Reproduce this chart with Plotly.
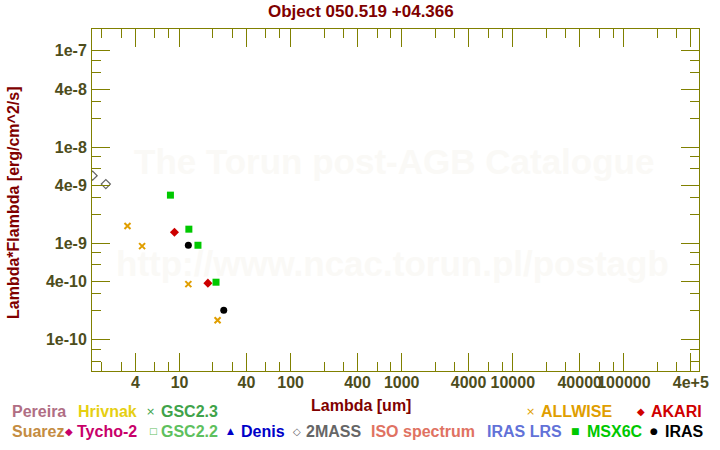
import plotly.graph_objects as go

# ---------------- data ----------------
title_text = "Object 050.519 +04.366"
x_title = "Lambda [um]"
y_title = "Lambda*Flambda [erg/cm^2/s]"
watermark_lines = ["The Torun post-AGB Catalogue", "http://www.ncac.torun.pl/postagb"]

twomass_wl = [1.65, 2.17]
twomass_flux = [5.06e-9, 4.14e-9]
allwise_wl = [3.4, 4.6, 12.0, 22.0]
allwise_flux = [1.52e-9, 9.4e-10, 3.79e-10, 1.60e-10]
akari_wl = [9.0, 18.0]
akari_flux = [1.31e-9, 3.88e-10]
msx_wl = [8.28, 12.13, 14.65, 21.3]
msx_flux = [3.18e-9, 1.41e-9, 9.6e-10, 3.97e-10]
iras_wl = [12.0, 25.0]
iras_flux = [9.6e-10, 2.03e-10]

x_tickvals = [4, 10, 40, 100, 400, 1000, 4000, 10000, 40000, 100000, 400000]
x_ticktext = ["4", "10", "40", "100", "400", "1000", "4000", "10000", "40000", "100000", "4e+5"]
y_tickvals = [1e-10, 4e-10, 1e-9, 4e-9, 1e-8, 4e-8, 1e-7]
y_ticktext = ["1e-10", "4e-10", "1e-9", "4e-9", "1e-8", "4e-8", "1e-7"]

legend_row1 = [("", "Pereira", "#B06E84"), ("", "Hrivnak", "#E6CF12"), ("×", "GSC2.3", "#40A34A"),
               ("×", "ALLWISE", "#E09E00"), ("◆", "AKARI", "#D00000")]
legend_row2 = [("", "Suarez", "#C48C42"), ("◆", "Tycho-2", "#C8006A"), ("□", "GSC2.2", "#5EC05E"),
               ("▲", "Denis", "#0000C8"), ("◇", "2MASS", "#666666"), ("", "ISO spectrum", "#E07262"),
               ("", "IRAS LRS", "#6272D8"), ("■", "MSX6C", "#00C800"), ("●", "IRAS", "#000000")]

# ---------------- layout geometry ----------------
W_FIG, H_FIG = 720, 450
ML, MR, MT, MB = 92, 21, 29, 79
PW = W_FIG - ML - MR
PH = H_FIG - MT - MB


def pxx(x):
    return (x - ML) / PW


def pyy(y):
    return (H_FIG - MB - y) / PH


AXIS = "#808000"
TICKC = "#4D4D1C"
DARKRED = "#800000"
FONT = "Liberation Sans"

fig = go.Figure()

fig.add_trace(go.Scatter(x=twomass_wl, y=twomass_flux, mode="markers", name="2MASS",
                         marker=dict(symbol="diamond-open", size=7, color="#666666",
                                     line=dict(width=1.2, color="#666666"))))
fig.add_trace(go.Scatter(x=allwise_wl, y=allwise_flux, mode="markers", name="ALLWISE",
                         marker=dict(symbol="x-thin", size=6, color="#E09E00",
                                     line=dict(width=2, color="#E09E00"))))
fig.add_trace(go.Scatter(x=akari_wl, y=akari_flux, mode="markers", name="AKARI",
                         marker=dict(symbol="diamond", size=7, color="#CC0000", line=dict(width=0))))
fig.add_trace(go.Scatter(x=msx_wl, y=msx_flux, mode="markers", name="MSX6C",
                         marker=dict(symbol="square", size=7, color="#00C800", line=dict(width=0))))
fig.add_trace(go.Scatter(x=iras_wl, y=iras_flux, mode="markers", name="IRAS",
                         marker=dict(symbol="circle", size=7, color="#000000", line=dict(width=0))))

x_minor = [m * 10 ** k for k in range(0, 6) for m in (2, 3, 6, 8)]
y_minor = [m * 10.0 ** k for k in range(-11, -6) for m in (2, 3, 6, 8)]

axis_common = dict(type="log", showgrid=False, zeroline=False, showline=True, linecolor=AXIS,
                   linewidth=1, mirror="allticks", ticks="inside", ticklen=18, tickwidth=1,
                   tickcolor=AXIS, tickmode="array", tickangle=0,
                   tickfont=dict(family=FONT, size=16, color=TICKC, weight="bold"))

fig.update_xaxes(**axis_common, range=[0.212, 5.676], tickvals=x_tickvals, ticktext=x_ticktext,
                 ticklabelstandoff=-3,
                 minor=dict(tickmode="array", tickvals=x_minor, ticks="inside", ticklen=9,
                            tickwidth=1, tickcolor=AXIS, showgrid=False))
fig.update_yaxes(**axis_common, range=[-10.323, -6.773], tickvals=y_tickvals, ticktext=y_ticktext,
                 ticklabelstandoff=1,
                 minor=dict(tickmode="array", tickvals=y_minor, ticks="inside", ticklen=9,
                            tickwidth=1, tickcolor=AXIS, showgrid=False))

ann = []
# watermark
ann.append(dict(x=pxx(394), y=pyy(162), text=watermark_lines[0], showarrow=False,
                xref="paper", yref="paper", xanchor="center", yanchor="middle",
                font=dict(family=FONT, size=35, color="#FAF9F6", weight="bold")))
ann.append(dict(x=pxx(392), y=pyy(263), text=watermark_lines[1], showarrow=False,
                xref="paper", yref="paper", xanchor="center", yanchor="middle",
                font=dict(family=FONT, size=35, color="#FAF9F6", weight="bold")))
# title
ann.append(dict(x=pxx(361), y=pyy(11), text=title_text, showarrow=False, xref="paper", yref="paper",
                xanchor="center", yanchor="middle",
                font=dict(family=FONT, size=17, color=DARKRED, weight="bold")))
# axis titles
ann.append(dict(x=pxx(361), y=pyy(405), text=x_title, showarrow=False, xref="paper", yref="paper",
                xanchor="center", yanchor="middle",
                font=dict(family=FONT, size=16, color=DARKRED, weight="bold")))
ann.append(dict(x=pxx(13), y=pyy(203), text=y_title, showarrow=False, xref="paper", yref="paper",
                xanchor="center", yanchor="middle", textangle=-90,
                font=dict(family=FONT, size=16, color=DARKRED, weight="bold")))

row1_pos = [(None, 11), (None, 77.7), (150.7, 160.7), (530, 540.7), (640.7, 650)]
row2_pos = [(None, 11), (69.3, 76), (153.3, 160), (230, 240.7), (296.7, 305), (None, 370.7),
            (None, 486), (575.3, 586), (654.3, 664.3)]
sym_size = {"×": 11, "◆": 10, "□": 9, "▲": 9, "◇": 10, "■": 9, "●": 9}
for row, pos, yrow in ((legend_row1, row1_pos, 411), (legend_row2, row2_pos, 431)):
    for (sym, label, color), (sx, tx) in zip(row, pos):
        if sym:
            ann.append(dict(x=pxx(sx), y=pyy(yrow), text=sym, showarrow=False, xref="paper",
                            yref="paper", xanchor="center", yanchor="middle",
                            font=dict(family="DejaVu Sans", size=sym_size[sym], color=color)))
        ann.append(dict(x=pxx(tx - 1.5), y=pyy(yrow), text=label, showarrow=False, xref="paper",
                        yref="paper", xanchor="left", yanchor="middle",
                        font=dict(family=FONT, size=16, color=color, weight="bold")))

fig.update_layout(width=W_FIG, height=H_FIG, margin=dict(l=ML, r=MR, t=MT, b=MB),
                  paper_bgcolor="white", plot_bgcolor="white", showlegend=False,
                  annotations=ann)

fig.write_html("out.html")
